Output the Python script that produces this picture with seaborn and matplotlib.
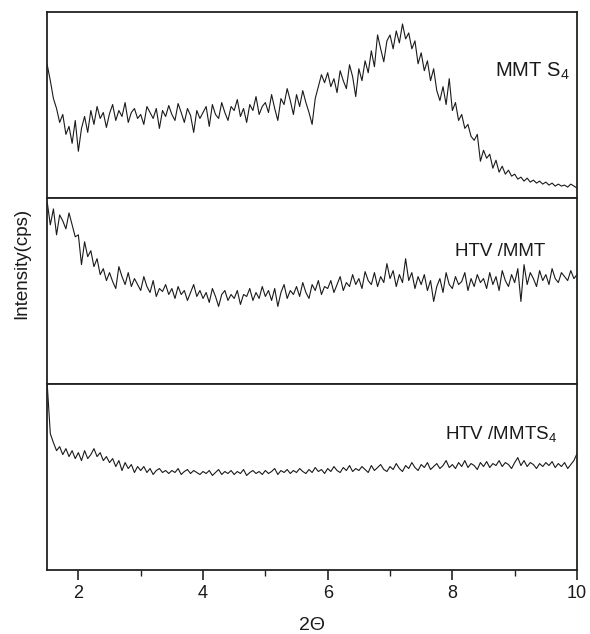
import seaborn as sns
import pandas as pd
import numpy as np
import matplotlib.pyplot as plt
from matplotlib.ticker import MultipleLocator

# 2-theta scan grid (deg)
two_theta = np.round(np.arange(1.5, 10.0001, 0.05), 2)

# intensities (arbitrary units, offset per panel)
mmt_s4 = [134, 118, 100, 90, 76, 84, 64, 72, 55, 78,
          47, 70, 82, 66, 88, 74, 92, 80, 86, 71,
          85, 94, 78, 88, 82, 96, 76, 86, 90, 80,
          84, 74, 92, 86, 80, 90, 70, 88, 82, 93,
          84, 78, 95, 86, 76, 90, 83, 66, 88, 80,
          86, 92, 72, 94, 84, 80, 96, 86, 78, 92,
          88, 99, 82, 90, 76, 94, 88, 102, 84, 92,
          96, 86, 104, 90, 78, 100, 94, 110, 98, 84,
          104, 92, 108, 96, 86, 74, 100, 112, 124, 116,
          126, 112, 120, 106, 128, 118, 110, 134, 122, 102,
          130, 118, 138, 126, 148, 132, 164, 150, 137, 158,
          164, 150, 168, 156, 175, 160, 166, 150, 158, 135,
          146, 128, 138, 118, 130, 108, 98, 112, 94, 120,
          88, 96, 78, 84, 70, 74, 62, 58, 64, 37,
          48, 40, 44, 30, 38, 26, 32, 24, 28, 22,
          24, 19, 21, 17, 20, 16, 18, 15, 17, 14,
          16, 13, 15, 12, 14, 12, 13, 11, 14, 12,
          10]

htv_mmt = [183, 160, 176, 150, 170, 164, 156, 172, 160, 148,
           150, 120, 143, 128, 134, 118, 126, 110, 116, 104,
           112, 103, 96, 118, 108, 100, 112, 98, 106, 100,
           94, 108, 98, 92, 104, 88, 96, 93, 100, 90,
           96, 86, 98, 90, 94, 84, 92, 100, 88, 94,
           86, 92, 82, 96, 88, 78, 90, 94, 84, 90,
           86, 94, 80, 90, 88, 96, 84, 92, 86, 98,
           88, 94, 84, 96, 78, 92, 100, 86, 94, 90,
           98, 88, 102, 92, 86, 100, 94, 104, 90, 98,
           96, 104, 92, 100, 108, 94, 102, 98, 110, 100,
           106, 96, 113, 104, 100, 112, 98, 108, 102, 121,
           106, 114, 98, 110, 102, 126, 104, 112, 96, 108,
           100, 110, 94, 104, 83, 98, 106, 92, 112, 100,
           96, 108, 100, 103, 112, 94, 106, 98, 110, 102,
           106, 96, 112, 100, 108, 94, 114, 104, 98, 110,
           102, 116, 83, 120, 100, 112, 106, 98, 114, 104,
           110, 100, 116, 106, 102, 112, 108, 104, 114, 106,
           110]

htv_mmt_s4 = [187, 137, 128, 120, 124, 116, 122, 114, 120, 112,
              118, 110, 120, 112, 116, 122, 114, 118, 110, 114,
              108, 112, 104, 110, 100, 108, 102, 106, 98, 104,
              100, 104, 98, 102, 96, 100, 102, 98, 100, 97,
              100, 98, 102, 96, 99, 101, 97, 100, 98, 96,
              99, 97, 100, 95, 98, 101, 96, 99, 97, 100,
              96, 99, 97, 101, 95, 98, 100, 97, 99, 96,
              100, 97, 99, 102, 96, 100, 98, 101, 97, 100,
              98, 102, 99, 97, 101, 98, 103, 99, 101, 97,
              102, 99, 104, 100, 98, 103, 100, 105, 99, 102,
              100, 104, 101, 98, 105, 100, 103, 106, 101, 99,
              104, 101, 107, 102, 99, 105, 102, 108, 103, 100,
              106, 103, 108, 101, 104, 107, 102, 105, 110, 103,
              106, 102, 108, 104, 110, 103, 107, 105, 101, 108,
              104, 109, 103, 107, 105, 110, 104, 108, 106, 102,
              108, 113, 105, 110, 104, 108, 106, 102, 107, 104,
              108, 105, 109, 103, 107, 104, 108, 102, 106, 110,
              117]

labels = ['MMT S$_4$', 'HTV /MMT', 'HTV /MMTS$_4$']
label_pos = [(8.69, 127), (8.05, 133), (7.89, 137)]
label_size = [14.5, 13.5, 13.5]

sns.set_style('ticks')
plt.rcParams['font.family'] = ['Liberation Sans', 'DejaVu Sans']
plt.rcParams['mathtext.fontset'] = 'custom'
plt.rcParams['mathtext.rm'] = 'Liberation Sans'
plt.rcParams['mathtext.it'] = 'Liberation Sans:italic'

fig, axes = plt.subplots(3, 1, figsize=(5.9, 6.34), dpi=100, sharex=True)
fig.subplots_adjust(left=0.08, right=0.978, top=0.981, bottom=0.101, hspace=0)

for ax, series, lab, pos, fs in zip(axes, [mmt_s4, htv_mmt, htv_mmt_s4], labels, label_pos, label_size):
    df = pd.DataFrame({'two_theta': two_theta, 'I': series})
    sns.lineplot(x='two_theta', y='I', data=df, ax=ax, color='#1a1a1a', linewidth=0.8)
    ax.set_ylim(0, 187)
    ax.set_xlim(1.5, 10)
    ax.set_yticks([])
    ax.set_ylabel('')
    ax.set_xlabel('')
    ax.text(pos[0], pos[1], lab, fontsize=fs, va='center', ha='left', color='#1a1a1a')
    for sp in ax.spines.values():
        sp.set_linewidth(1.3)
        sp.set_color('#222222')
    ax.tick_params(axis='x', which='both', length=0)

axes[2].xaxis.set_major_locator(MultipleLocator(2))
axes[2].xaxis.set_minor_locator(MultipleLocator(1))
axes[2].tick_params(axis='x', which='major', length=7, width=1.2, labelsize=13,
                    direction='out', color='#222222', labelcolor='#1a1a1a')
axes[2].tick_params(axis='x', which='minor', length=4, width=1.0, direction='out', color='#222222')
axes[2].set_xlabel('2\u0398', fontsize=14, labelpad=11, color='#1a1a1a')

fig.text(0.037, 0.585, 'Intensity(cps)', rotation=90, fontsize=13.5, va='center', ha='center',
         color='#1a1a1a')

plt.savefig('out.png', dpi=100)
plt.close()
